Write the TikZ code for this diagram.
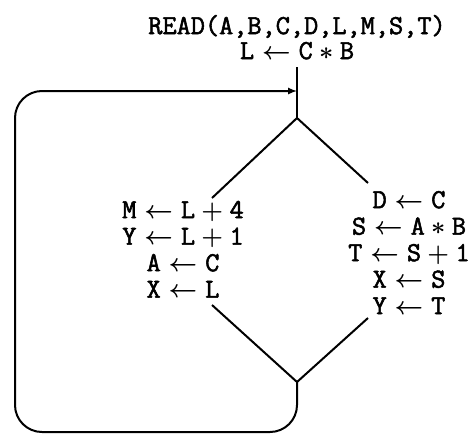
\documentclass[tikz,border=0pt]{standalone}
\usepackage{amsmath}
\usepackage{amssymb}
\usepackage{fontspec}
\usepackage{tikz}

\newfontfamily\codefont{Latin Modern Mono}[NFSSFamily=codett,FakeBold=2]
\DeclareMathAlphabet{\mathprog}{TU}{codett}{m}{n}

\begin{document}
\begin{tikzpicture}[x=1pt,y=-1pt,line width=2pt,
  stmt/.style={inner sep=0pt,anchor=north,align=center,
    font=\fontsize{27.5}{26.5}\selectfont\codefont\boldmath}]
\useasboundingbox (0,0) rectangle (470,434);

\node [stmt,font=\fontsize{27.5}{25}\selectfont\codefont\boldmath,
  outer ysep=8pt] (init) at (297,7)
  {READ(A,B,C,D,L,M,S,T)\\ $\mathprog{L\leftarrow C*B}$};

\node [stmt] (thenb) at (183,200)
  {$\mathprog{M\leftarrow L+4}$\\ $\mathprog{Y\leftarrow L+1}$\\
   $\mathprog{A\leftarrow C}$\\ $\mathprog{X\leftarrow L}$};
\node [stmt] (elseb) at (409,190)
  {$\mathprog{D\leftarrow C}$\\ $\mathprog{S\leftarrow A*B}$\\
   $\mathprog{T\leftarrow S+1}$\\ $\mathprog{X\leftarrow S}$\\
   $\mathprog{Y\leftarrow T}$};

\coordinate (entry) at (297,91);
\coordinate (fork) at (297,118);
\coordinate (lt) at (212,198);
\coordinate (rt) at (368,183);
\coordinate (lb) at (212,305);
\coordinate (rb) at (368,318);
\coordinate (merge) at (297,382);
\coordinate (back) at (15,432);

\draw (init.south) -- (fork);
\draw (lt) -- (fork) -- (rt);
\draw (lb) -- (merge) -- (rb);
\draw [rounded corners=27pt,-latex] (merge) |- (back) |- (entry);
\end{tikzpicture}
\end{document}
